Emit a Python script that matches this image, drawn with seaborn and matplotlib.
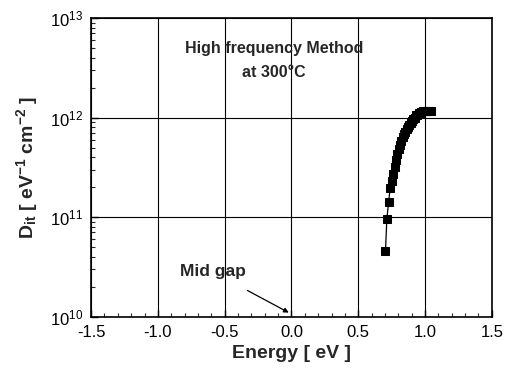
import matplotlib
matplotlib.use("Agg")
import matplotlib.pyplot as plt
import matplotlib.ticker as mticker
import seaborn as sns
import pandas as pd

energy = [0.704, 0.714, 0.727, 0.739, 0.751, 0.762, 0.772, 0.782, 0.792, 0.802,
          0.812, 0.822, 0.832, 0.842, 0.852, 0.862, 0.872, 0.882, 0.892, 0.902,
          0.912, 0.922, 0.932, 0.942, 0.952, 0.962, 0.972, 0.982, 0.992, 1.002,
          1.012, 1.022, 1.032, 1.042]
dit = [4.57e10, 9.55e10, 1.41e11, 1.95e11, 2.29e11, 2.69e11, 3.16e11, 3.72e11, 4.27e11, 4.79e11,
       5.25e11, 5.75e11, 6.31e11, 6.76e11, 7.24e11, 7.76e11, 8.13e11, 8.51e11, 8.91e11, 9.33e11,
       9.77e11, 1.00e12, 1.05e12, 1.07e12, 1.10e12, 1.12e12, 1.15e12, 1.17e12, 1.17e12, 1.17e12,
       1.17e12, 1.17e12, 1.17e12, 1.17e12]
x_ticks = [-1.5, -1.0, -0.5, 0.0, 0.5, 1.0, 1.5]
y_ticks = [1e10, 1e11, 1e12, 1e13]

sns.set_style("white")
plt.rcParams['font.family'] = ['Liberation Sans', 'DejaVu Sans']
plt.rcParams['axes.unicode_minus'] = False
plt.rcParams['mathtext.fontset'] = 'custom'
plt.rcParams['mathtext.rm'] = 'Liberation Sans'
plt.rcParams['mathtext.bf'] = 'Liberation Sans:bold'

df = pd.DataFrame({"Energy": energy, "Dit": dit})

fig = plt.figure(figsize=(5.06, 3.76), dpi=100)
ax = fig.add_axes([0.180, 0.158, 0.792, 0.794])

sns.lineplot(data=df, x="Energy", y="Dit", ax=ax, color="black", linewidth=0.9,
             marker="s", markersize=5.5, markeredgecolor="black", sort=False, zorder=3)

ax.set_yscale("log")
ax.set_xlim(-1.5, 1.5)
ax.set_ylim(1e10, 1e13)
ax.set_xticks(x_ticks)
ax.xaxis.set_major_formatter(mticker.FormatStrFormatter("%.1f"))
ax.xaxis.set_minor_locator(mticker.MultipleLocator(0.1))
ax.set_yticks(y_ticks)
ax.yaxis.set_major_formatter(mticker.LogFormatterMathtext())
ax.yaxis.set_minor_locator(mticker.LogLocator(base=10, subs=range(2, 10)))
ax.yaxis.set_minor_formatter(mticker.NullFormatter())

ax.grid(True, which="major", color="black", linewidth=0.8)
ax.tick_params(axis="both", which="major", direction="in", length=5, width=1,
               labelsize=12, colors="black", bottom=True, left=True, pad=6)
ax.tick_params(axis="both", which="minor", direction="in", length=3, width=0.8,
               bottom=True, left=True)
for s in ax.spines.values():
    s.set_color("black")
    s.set_linewidth(1.2)

ax.set_xlabel("Energy [ eV ]", fontsize=14, fontweight="bold", labelpad=4)
ax.set_ylabel(r"$\mathbf{D_{it}}$ [ eV$^{\mathbf{-1}}$ cm$^{\mathbf{-2}}$ ]",
              fontsize=14, fontweight="bold", labelpad=6)

ax.text(-0.13, 10**12.574, "High frequency Method\nat 300°C", ha="center", va="center",
        fontsize=11.5, fontweight="bold", linespacing=1.8)

ax.annotate("Mid gap", xy=(-0.02, 10**10.04), xytext=(-0.59, 10**10.45),
            ha="center", va="center", fontsize=12.5, fontweight="bold",
            arrowprops=dict(arrowstyle="-|>", color="black", lw=0.9,
                            shrinkA=12, shrinkB=0, mutation_scale=7))

fig.savefig("out.png", dpi=100)
